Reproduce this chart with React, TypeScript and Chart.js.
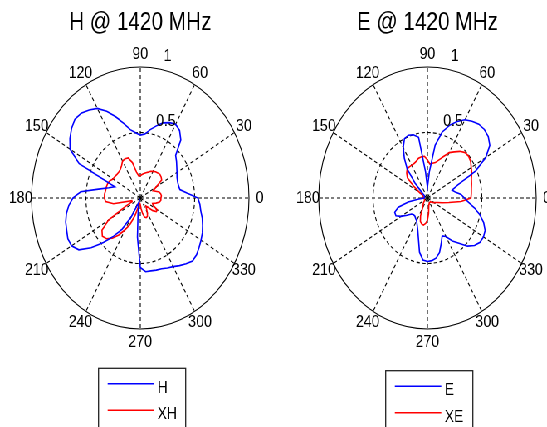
import React, { useEffect, useRef } from "react";
import { Chart, registerables } from "chart.js";

Chart.register(...registerables);

// Angles (degrees) at which each pattern is sampled
const ANGLES = [
  0, 5, 10, 15, 20, 25, 30, 35, 40, 45, 50, 55, 60, 65, 70, 75, 80, 85,
  90, 95, 100, 105, 110, 115, 120, 125, 130, 135, 140, 145, 150, 155, 160, 165, 170, 175,
  180, 185, 190, 195, 200, 205, 210, 215, 220, 225, 230, 235, 240, 245, 250, 255, 260, 265,
  270, 275, 280, 285, 290, 295, 300, 305, 310, 315, 320, 325, 330, 335, 340, 345, 350, 355,
];

// Angle tick labels and radial tick labels
const ANGLE_TICKS = [0, 30, 60, 90, 120, 150, 180, 210, 240, 270, 300, 330];
const RADIAL_TICKS = [0.5, 1];

// H-plane pattern (co-pol) at 1420 MHz
const H = [
  0.53, 0.43, 0.37, 0.364, 0.365, 0.373, 0.39, 0.41, 0.435, 0.46, 0.58, 0.63, 0.65, 0.635, 0.61, 0.57, 0.53, 0.49,
  0.48, 0.50, 0.53, 0.59, 0.66, 0.73, 0.79, 0.82, 0.845, 0.85, 0.825, 0.79, 0.745, 0.62, 0.25, 0.30, 0.39, 0.55,
  0.62, 0.66, 0.69, 0.71, 0.72, 0.735, 0.73, 0.69, 0.59, 0.48, 0.38, 0.29, 0.16, 0.05, 0.03, 0.06, 0.12, 0.30,
  0.53, 0.565, 0.565, 0.57, 0.575, 0.59, 0.605, 0.63, 0.655, 0.68, 0.675, 0.66, 0.645, 0.63, 0.61, 0.59, 0.565, 0.55,
];

// H-plane cross-pol
const XH = [
  0.19, 0.195, 0.19, 0.18, 0.15, 0.13, 0.17, 0.24, 0.25, 0.255, 0.25, 0.245, 0.235, 0.225, 0.21, 0.20, 0.19, 0.18,
  0.17, 0.17, 0.20, 0.28, 0.325, 0.33, 0.326, 0.30, 0.285, 0.28, 0.28, 0.285, 0.29, 0.31, 0.32, 0.323, 0.324, 0.33,
  0.33, 0.32, 0.25, 0.08, 0.08, 0.15, 0.34, 0.43, 0.455, 0.44, 0.40, 0.345, 0.28, 0.22, 0.14, 0.07, 0.04, 0.04,
  0.05, 0.08, 0.12, 0.15, 0.16, 0.155, 0.13, 0.10, 0.08, 0.10, 0.15, 0.18, 0.18, 0.13, 0.12, 0.15, 0.18, 0.19,
];

// E-plane pattern (co-pol) at 1420 MHz
const E = [
  0.34, 0.31, 0.26, 0.235, 0.30, 0.49, 0.62, 0.70, 0.73, 0.74, 0.735, 0.715, 0.69, 0.645, 0.59, 0.52, 0.41, 0.20,
  0.08, 0.20, 0.47, 0.50, 0.51, 0.50, 0.445, 0.37, 0.29, 0.16, 0.07, 0.04, 0.03, 0.03, 0.03, 0.03, 0.03, 0.03,
  0.03, 0.08, 0.18, 0.28, 0.32, 0.32, 0.28, 0.23, 0.19, 0.18, 0.18, 0.19, 0.20, 0.225, 0.26, 0.32, 0.42, 0.475,
  0.485, 0.48, 0.465, 0.43, 0.37, 0.32, 0.34, 0.40, 0.45, 0.52, 0.565, 0.59, 0.595, 0.585, 0.55, 0.50, 0.44, 0.38,
];

// E-plane cross-pol
const XE = [
  0.40, 0.405, 0.41, 0.42, 0.43, 0.45, 0.465, 0.485, 0.495, 0.49, 0.465, 0.43, 0.40, 0.35, 0.31, 0.28, 0.27, 0.26,
  0.29, 0.32, 0.32, 0.315, 0.30, 0.29, 0.29, 0.29, 0.29, 0.27, 0.24, 0.15, 0.08, 0.05, 0.04, 0.04, 0.04, 0.04,
  0.04, 0.03, 0.03, 0.03, 0.03, 0.03, 0.03, 0.03, 0.04, 0.05, 0.06, 0.07, 0.09, 0.15, 0.19, 0.205, 0.21, 0.195,
  0.17, 0.12, 0.07, 0.05, 0.05, 0.04, 0.04, 0.04, 0.04, 0.04, 0.05, 0.06, 0.07, 0.08, 0.10, 0.14, 0.20, 0.31,
];

const FONT = '"Liberation Sans", Arial, Helvetica, sans-serif';
const SX = 0.83; // horizontal squeeze of the original figure
const CW = 320;
const CH = 427;

type Series = { label: string; color: string; values: number[] };

// radar index i is drawn clockwise from 3 o'clock; polar angles run counter-clockwise
const reorder = <T,>(arr: T[]): T[] => arr.map((_, i) => arr[(arr.length - i) % arr.length]);

const polarLabels = {
  id: "polarLabels",
  afterDraw(chart: any) {
    const s = chart.scales.r;
    const ctx = chart.ctx as CanvasRenderingContext2D;
    const R = s.drawingArea;
    ctx.save();
    ctx.fillStyle = "#000";
    ctx.font = `17px ${FONT}`;
    ctx.textAlign = "center";
    ctx.textBaseline = "middle";
    ANGLE_TICKS.forEach((a) => {
      const idx = ((360 - a) % 360) / (360 / ANGLES.length);
      const p = s.getPointPosition(idx, R * 1.1);
      ctx.fillText(String(a), p.x, p.y);
    });
    ctx.textAlign = "left";
    ctx.textBaseline = "bottom";
    const th = (82 * Math.PI) / 180;
    RADIAL_TICKS.forEach((v) => {
      const d = s.getDistanceFromCenterForValue(v + 0.025);
      ctx.fillText("  " + String(v), s.xCenter + d * Math.cos(th), s.yCenter - d * Math.sin(th));
    });
    ctx.restore();
  },
};

// MATLAB-style boxed legend, built from the chart's own datasets
const boxLegend = {
  id: "boxLegend",
  afterDraw(chart: any, _args: any, opts: any) {
    const ctx = chart.ctx as CanvasRenderingContext2D;
    const { x, y, w, h } = opts;
    ctx.save();
    ctx.fillStyle = "#fff";
    ctx.fillRect(x, y, w, h);
    ctx.strokeStyle = "#222";
    ctx.lineWidth = 1.3;
    ctx.strokeRect(x, y, w, h);
    ctx.font = `17px ${FONT}`;
    ctx.textAlign = "left";
    ctx.textBaseline = "alphabetic";
    chart.data.datasets.forEach((ds: any, i: number) => {
      const ly = y + 15.5 + i * 26.5;
      ctx.strokeStyle = ds.borderColor;
      ctx.lineWidth = 1.6;
      ctx.beginPath();
      ctx.moveTo(x + 11, ly);
      ctx.lineTo(x + 67, ly);
      ctx.stroke();
      ctx.fillStyle = "#000";
      ctx.fillText(ds.label, x + 71, ly + 9);
    });
    ctx.restore();
  },
};

function PolarChart({
  title,
  series,
  left,
  legendTop,
}: {
  title: string;
  series: Series[];
  left: number;
  legendTop: number;
}) {
  const ref = useRef<HTMLCanvasElement | null>(null);
  useEffect(() => {
    if (!ref.current) return;
    const chart = new Chart(ref.current, {
      type: "radar",
      data: {
        labels: reorder(ANGLES).map(String),
        datasets: series.map((s) => ({
          label: s.label,
          data: reorder(s.values),
          borderColor: s.color,
          backgroundColor: s.color,
          borderWidth: 1.6,
          pointRadius: 0,
          fill: false,
          tension: 0,
        })),
      },
      options: {
        responsive: false,
        animation: false,
        devicePixelRatio: 1,
        layout: { padding: { left: 29, right: 29, top: 0, bottom: 98 } },
        plugins: {
          legend: { display: false },
          tooltip: { enabled: false },
          title: {
            display: true,
            text: title,
            color: "#000",
            font: { family: FONT, size: 25, weight: "normal", lineHeight: 1.2 },
            padding: { top: 8, bottom: 29 },
          },
          boxLegend: { x: 109.7, y: legendTop, w: 105, h: 80 },
        },
        scales: {
          r: {
            min: 0,
            max: 1,
            startAngle: 90,
            ticks: { display: false, stepSize: 0.5 },
            pointLabels: { display: false },
            grid: { circular: true, color: "#000", lineWidth: 1.1 },
            border: { dash: (c: any) => (c.tick && c.tick.value >= 1 ? [] : [4, 3]) },
            angleLines: {
              display: true,
              color: "#000",
              lineWidth: (c: any) => (c.index % 6 === 0 ? 1.1 : 0),
              borderDash: [4, 3],
            },
          },
        },
      } as any,
      plugins: [polarLabels, boxLegend],
    });
    return () => chart.destroy();
  }, [title, series, legendTop]);
  return (
    <canvas
      ref={ref}
      width={CW}
      height={CH}
      style={{ position: "absolute", left, top: 0, width: CW, height: CH }}
    />
  );
}

const H_SERIES: Series[] = [
  { label: "H", color: "#0000ff", values: H },
  { label: "XH", color: "#ff0000", values: XH },
];
const E_SERIES: Series[] = [
  { label: "E", color: "#0000ff", values: E },
  { label: "XE", color: "#ff0000", values: XE },
];

export default function App() {
  return (
    <div
      style={{
        position: "absolute",
        left: 0,
        top: 0,
        width: 547,
        height: 427,
        overflow: "hidden",
        background: "#fff",
      }}
    >
      <div
        style={{
          position: "absolute",
          left: 0,
          top: 0,
          width: 700,
          height: 427,
          transform: `scaleX(${SX})`,
          transformOrigin: "0 0",
        }}
      >
        <PolarChart title="H @ 1420 MHz" series={H_SERIES} left={8.7} legendTop={368.3} />
        <PolarChart title="E @ 1420 MHz" series={E_SERIES} left={355.3} legendTop={370.7} />
      </div>
    </div>
  );
}
